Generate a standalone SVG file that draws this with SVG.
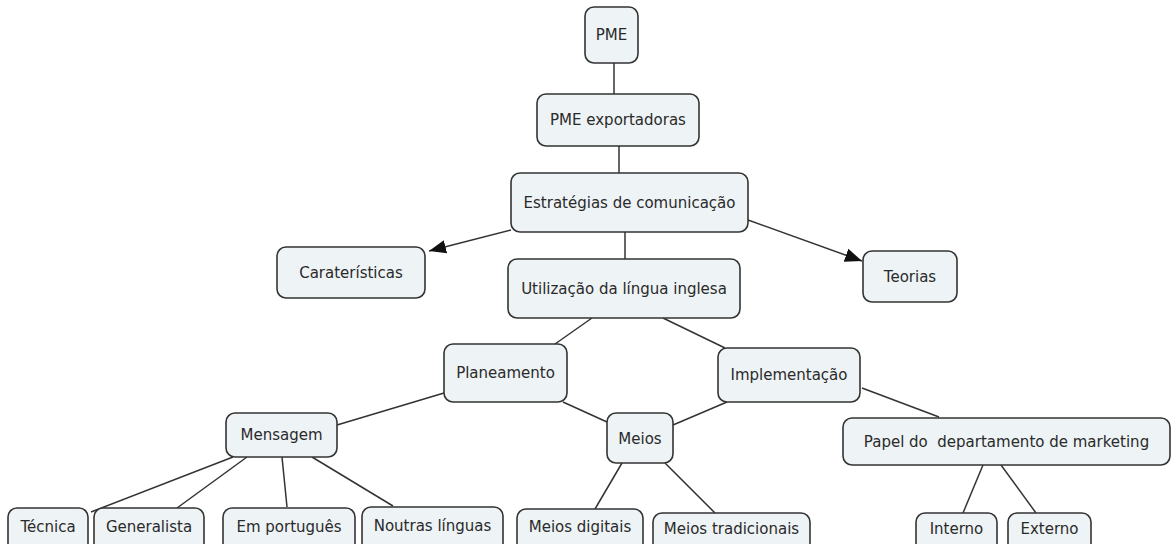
<svg xmlns="http://www.w3.org/2000/svg" width="1172" height="544" viewBox="0 0 1172 544">
<style>
.n rect{fill:#eef3f6;stroke:#333;stroke-width:1.6}
.n text{font-family:"DejaVu Sans",Verdana,sans-serif;font-size:15px;fill:#2a2a2a;text-anchor:middle;dominant-baseline:central;white-space:pre}
#edges line{stroke:#333;stroke-width:1.5}
</style>
<defs>
<marker id="ah2" viewBox="0 0 10 10" refX="10" refY="5" markerWidth="17" markerHeight="17" markerUnits="userSpaceOnUse" orient="auto"><path d="M0,1 L10,5 L0,9 z" fill="#111"/></marker>
</defs>
<rect width="1172" height="544" fill="#fff"/>
<g id="edges">
<line x1="614" y1="63" x2="614" y2="94"/>
<line x1="619" y1="146" x2="619" y2="173"/>
<line x1="625" y1="232" x2="625" y2="259"/>
<line x1="511" y1="230" x2="429" y2="251" marker-end="url(#ah2)"/>
<line x1="748" y1="220" x2="862" y2="261" marker-end="url(#ah2)"/>
<line x1="592" y1="318" x2="555" y2="344"/>
<line x1="663" y1="318" x2="725" y2="348"/>
<line x1="444" y1="393" x2="337" y2="425"/>
<line x1="563" y1="402" x2="607" y2="422"/>
<line x1="727" y1="402" x2="673" y2="425"/>
<line x1="862" y1="388" x2="939" y2="417"/>
<line x1="233" y1="457" x2="91" y2="512"/>
<line x1="247" y1="457" x2="177" y2="508"/>
<line x1="282" y1="457" x2="287" y2="507"/>
<line x1="312" y1="457" x2="393" y2="506"/>
<line x1="622" y1="463" x2="595" y2="509"/>
<line x1="665" y1="463" x2="715" y2="513"/>
<line x1="983" y1="465" x2="963" y2="513"/>
<line x1="1001" y1="465" x2="1036" y2="513"/>
</g>
<g id="pme" class="n"><rect x="585" y="7" width="53" height="56" rx="9"/><text x="611.5" y="35">PME</text></g>
<g id="pme-exp" class="n"><rect x="537" y="94" width="162" height="52" rx="9"/><text x="618" y="120">PME exportadoras</text></g>
<g id="estrategias" class="n"><rect x="511" y="173" width="237" height="59" rx="9"/><text x="629.5" y="202.5">Estratégias de comunicação</text></g>
<g id="caracteristicas" class="n"><rect x="277" y="247" width="148" height="51" rx="9"/><text x="351" y="272.5">Caraterísticas</text></g>
<g id="utilizacao" class="n"><rect x="508" y="259" width="232" height="59" rx="9"/><text x="624" y="288.5">Utilização da língua inglesa</text></g>
<g id="teorias" class="n"><rect x="863" y="251" width="94" height="51" rx="9"/><text x="910" y="276.5">Teorias</text></g>
<g id="planeamento" class="n"><rect x="444" y="344" width="123" height="58" rx="9"/><text x="505.5" y="373">Planeamento</text></g>
<g id="implementacao" class="n"><rect x="718" y="348" width="142" height="54" rx="9"/><text x="789" y="375">Implementação</text></g>
<g id="mensagem" class="n"><rect x="226" y="413" width="111" height="44" rx="9"/><text x="281.5" y="434.5">Mensagem</text></g>
<g id="meios" class="n"><rect x="607" y="413" width="66" height="50" rx="9"/><text x="640" y="438.5">Meios</text></g>
<g id="papel" class="n"><rect x="843" y="418" width="327" height="47" rx="9"/><text x="1006.5" y="441.5" xml:space="preserve">Papel do  departamento de marketing</text></g>
<g id="tecnica" class="n"><rect x="8" y="508" width="80" height="46" rx="9"/><text x="48" y="527">Técnica</text></g>
<g id="generalista" class="n"><rect x="94" y="508" width="110" height="46" rx="9"/><text x="149" y="527">Generalista</text></g>
<g id="em-portugues" class="n"><rect x="223" y="508" width="132" height="46" rx="9"/><text x="289" y="527">Em português</text></g>
<g id="noutras" class="n"><rect x="362" y="507" width="141" height="47" rx="9"/><text x="432.5" y="526">Noutras línguas</text></g>
<g id="meios-digitais" class="n"><rect x="517" y="509" width="126" height="45" rx="9"/><text x="580" y="527">Meios digitais</text></g>
<g id="meios-tradicionais" class="n"><rect x="653" y="513" width="157" height="41" rx="9"/><text x="731.5" y="529">Meios tradicionais</text></g>
<g id="interno" class="n"><rect x="916" y="513" width="81" height="41" rx="9"/><text x="956.5" y="529">Interno</text></g>
<g id="externo" class="n"><rect x="1008" y="513" width="83" height="41" rx="9"/><text x="1049.5" y="529">Externo</text></g>
</svg>
